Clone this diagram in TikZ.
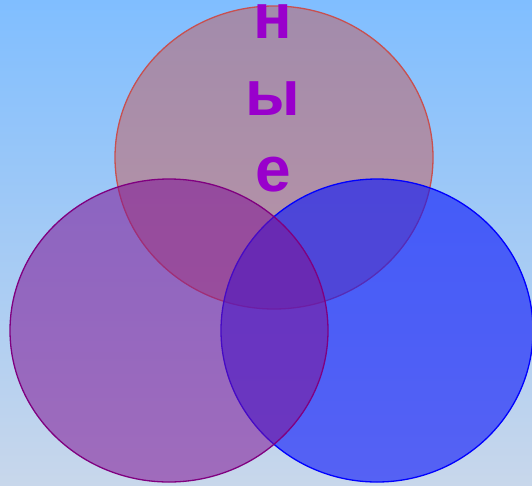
\documentclass[tikz,border=0pt]{standalone}
\usepackage{fontspec}
\setmainfont{Liberation Sans}
\begin{document}
\begin{tikzpicture}[x=1pt,y=-1pt]
\definecolor{bgtop}{RGB}{128,190,255}
\definecolor{bgbot}{RGB}{200,215,235}
\definecolor{topfill}{RGB}{196,90,90}
\definecolor{topline}{RGB}{200,80,80}
\definecolor{leftfill}{RGB}{128,20,150}
\definecolor{leftline}{RGB}{128,0,128}
\definecolor{rightfill}{RGB}{10,20,250}
\definecolor{rightline}{RGB}{0,0,255}
\definecolor{txt}{HTML}{9900CC}
\tikzset{
  vennset/.style={line width=1.3pt},
  letter/.style={anchor=base,text=txt,font=\fontsize{64}{64}\selectfont\bfseries,inner sep=0pt}
}
\useasboundingbox (0,0) rectangle (532,485);
\shade[top color=bgtop,bottom color=bgbot] (0,0) rectangle (532,485);
\begin{scope}
\clip (0,0) rectangle (532,485);
\path[vennset,draw=topline,fill=topfill,fill opacity=0.5] (274,157.5) ellipse[x radius=159,y radius=151.5];
\path[vennset,draw=rightline,fill=rightfill,fill opacity=0.6] (377,330.5) ellipse[x radius=156,y radius=151.5];
\path[vennset,draw=leftline,fill=leftfill,fill opacity=0.55] (169,330.5) ellipse[x radius=159,y radius=151.5];
\end{scope}
\node[letter] (n) at (273,38) {н};
\node[letter] (y) at (273,115) {ы};
\node[letter] (e) at (273,191) {е};
\end{tikzpicture}
\end{document}
